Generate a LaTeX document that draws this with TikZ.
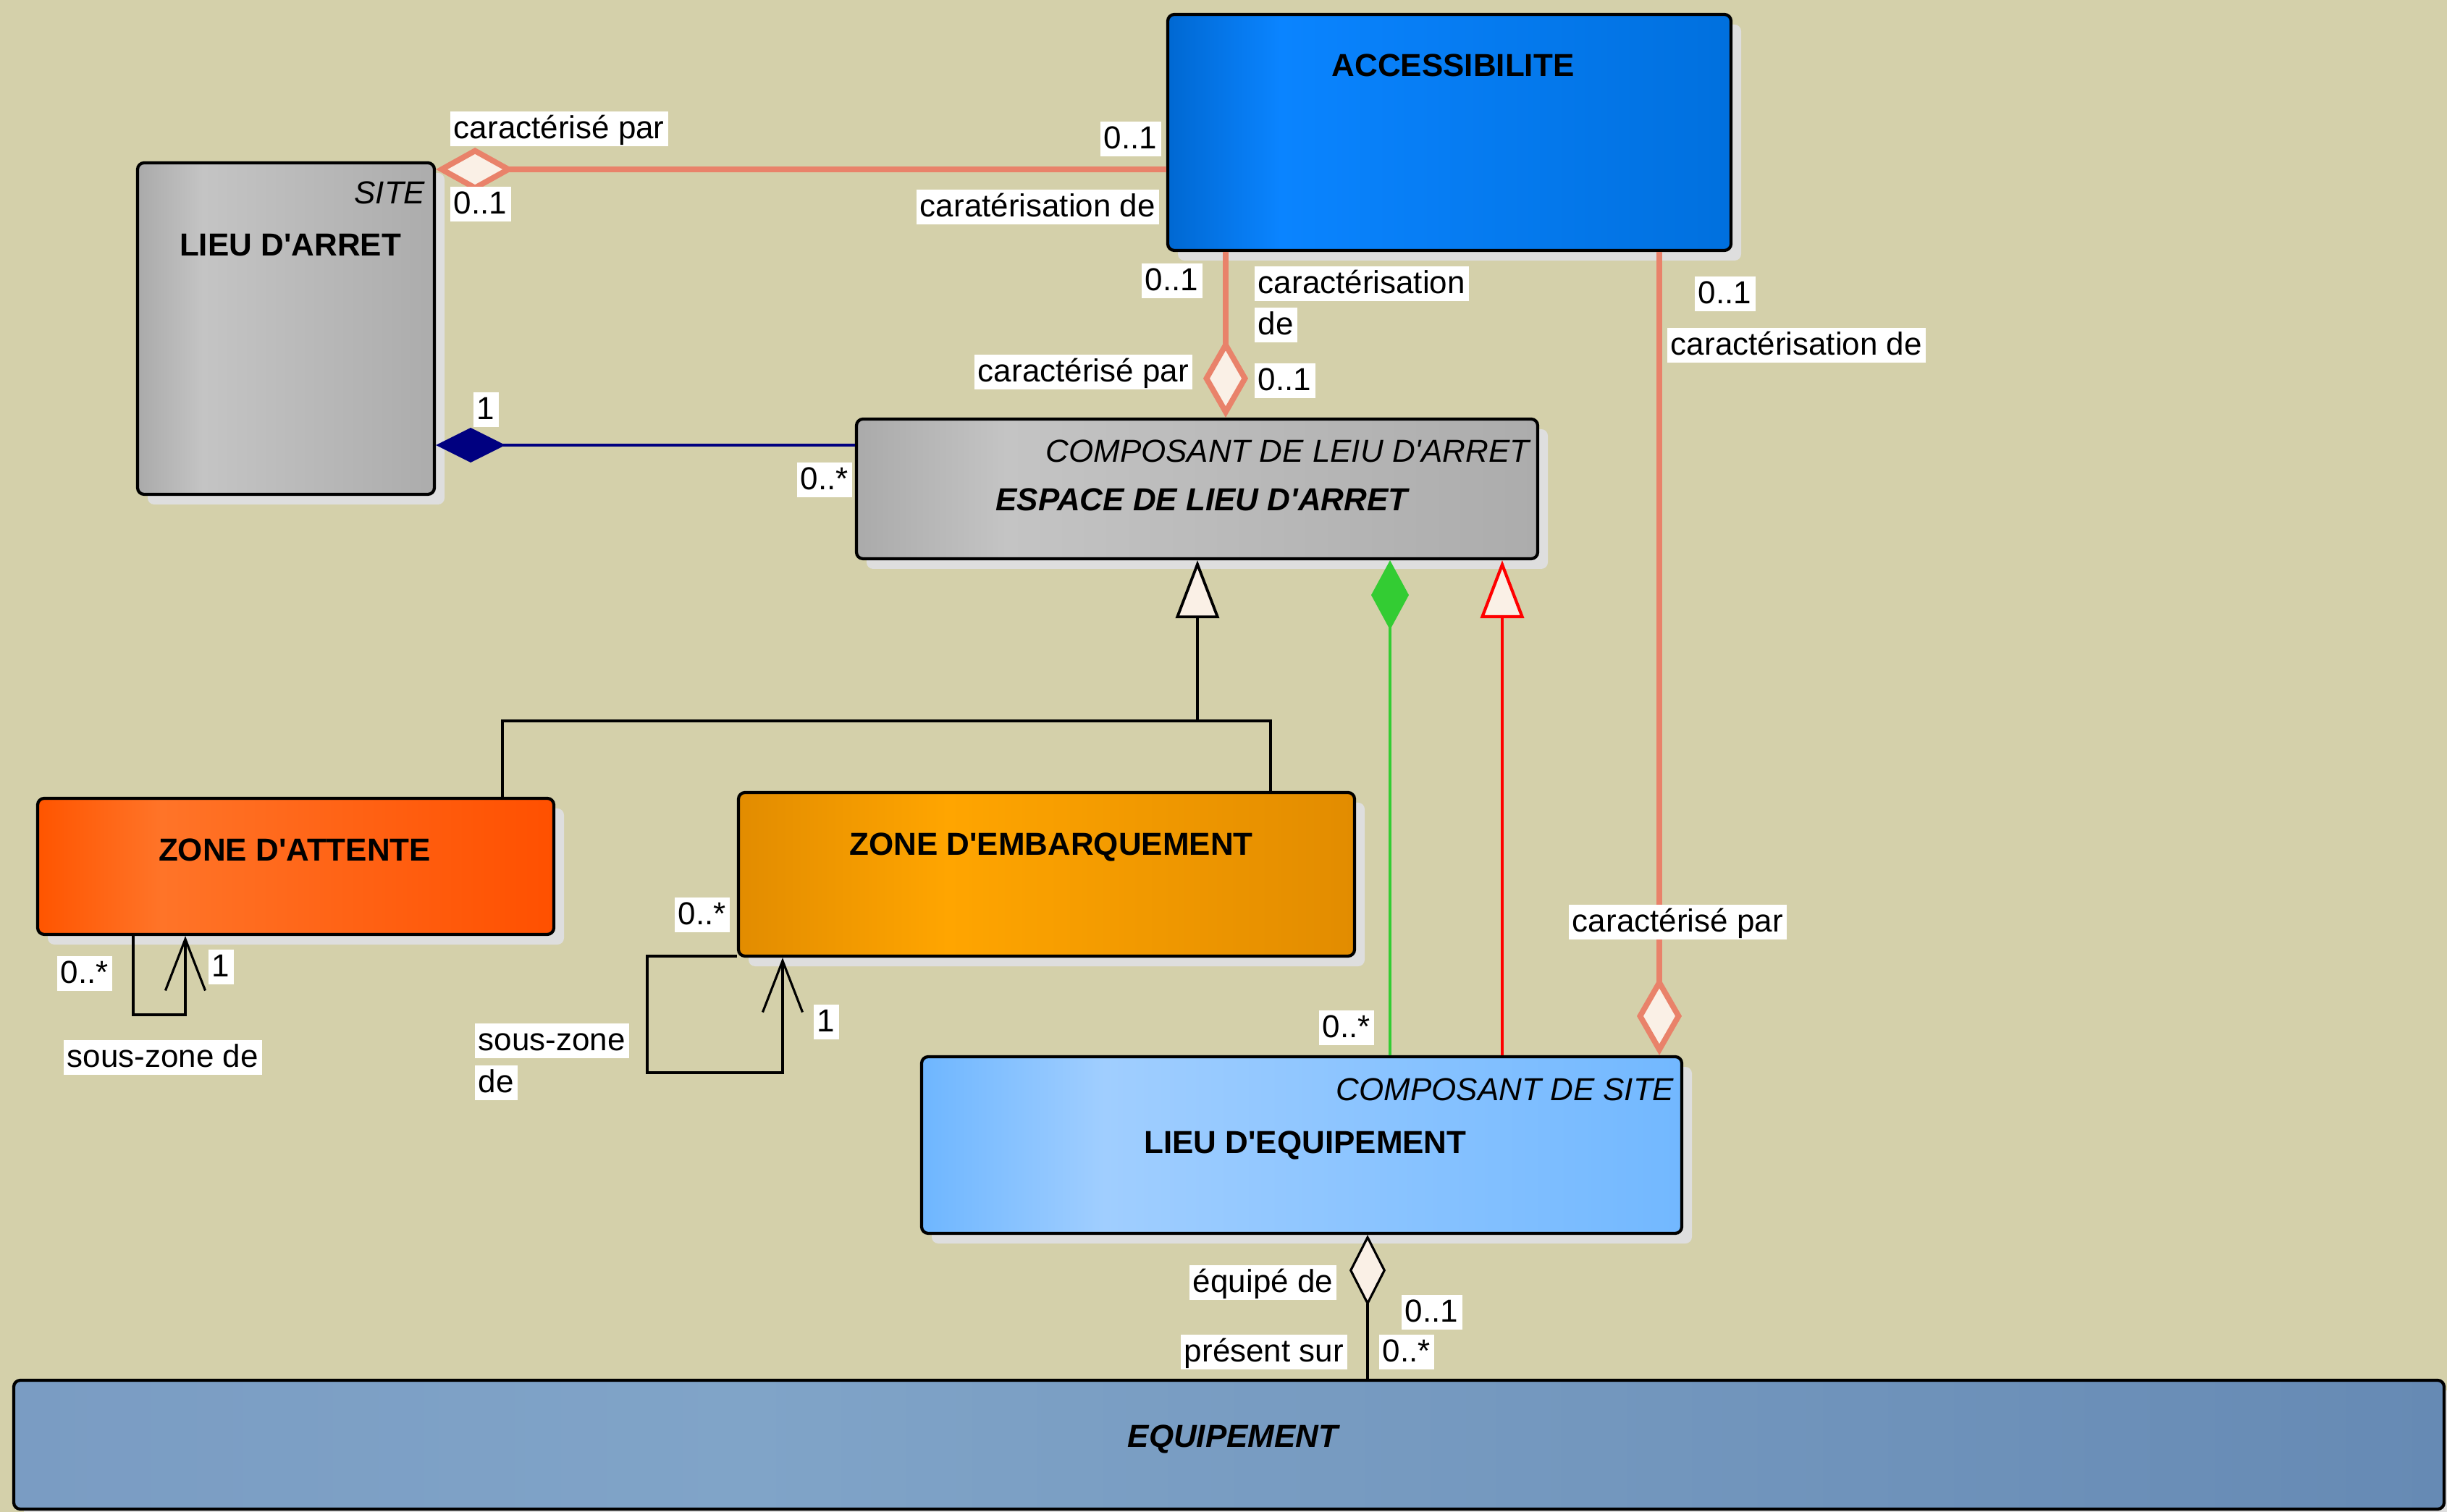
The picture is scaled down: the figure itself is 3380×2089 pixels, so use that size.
\documentclass[tikz,border=0pt]{standalone}
\usepackage{fontspec}
\setmainfont{Liberation Sans}
\usetikzlibrary{arrows.meta,fit,shadows}

\newcommand{\straightq}{\textquotesingle}

% palette
\definecolor{bg}{RGB}{212,208,170}
\definecolor{shadowgray}{RGB}{222,222,222}
\definecolor{salmon}{RGB}{233,130,106}
\definecolor{linenfill}{RGB}{250,240,230}
\definecolor{navyline}{RGB}{0,0,128}
\definecolor{greenline}{RGB}{51,204,51}
\definecolor{redline}{RGB}{255,0,0}

\definecolor{grayA}{RGB}{170,170,170}
\definecolor{grayB}{RGB}{196,196,196}
\definecolor{grayC}{RGB}{172,172,172}
\definecolor{blueA}{RGB}{0,104,210}
\definecolor{blueB}{RGB}{10,132,255}
\definecolor{blueC}{RGB}{0,112,222}
\definecolor{redA}{RGB}{255,85,0}
\definecolor{redB}{RGB}{255,116,40}
\definecolor{redC}{RGB}{255,80,0}
\definecolor{orA}{RGB}{226,140,0}
\definecolor{orB}{RGB}{255,165,0}
\definecolor{orC}{RGB}{226,140,0}
\definecolor{lbA}{RGB}{110,182,255}
\definecolor{lbB}{RGB}{160,206,255}
\definecolor{lbC}{RGB}{114,184,255}
\definecolor{sbA}{RGB}{122,156,195}
\definecolor{sbB}{RGB}{128,164,200}
\definecolor{sbC}{RGB}{102,138,180}

% left-to-right fills with a lighter band near the left side
\pgfdeclarehorizontalshading{shgray}{100bp}{color(0bp)=(grayA); color(25bp)=(grayA); color(36bp)=(grayB); color(75bp)=(grayC); color(100bp)=(grayC)}
\pgfdeclarehorizontalshading{shblue}{100bp}{color(0bp)=(blueA); color(25bp)=(blueA); color(35bp)=(blueB); color(75bp)=(blueC); color(100bp)=(blueC)}
\pgfdeclarehorizontalshading{shred}{100bp}{color(0bp)=(redA); color(25bp)=(redA); color(37bp)=(redB); color(75bp)=(redC); color(100bp)=(redC)}
\pgfdeclarehorizontalshading{shorange}{100bp}{color(0bp)=(orA); color(25bp)=(orA); color(42bp)=(orB); color(75bp)=(orC); color(100bp)=(orC)}
\pgfdeclarehorizontalshading{shlight}{100bp}{color(0bp)=(lbA); color(25bp)=(lbA); color(37bp)=(lbB); color(75bp)=(lbC); color(100bp)=(lbC)}
\pgfdeclarehorizontalshading{shsteel}{100bp}{color(0bp)=(sbA); color(25bp)=(sbA); color(40bp)=(sbB); color(75bp)=(sbC); color(100bp)=(sbC)}

\tikzset{
  classbox/.style={draw=black, line width=1.2pt, rounded corners=0.09cm, inner sep=0pt,
    general shadow={fill=shadowgray, shadow xshift=0.14cm, shadow yshift=-0.14cm}},
  txt/.style={inner sep=0pt, font=\fontsize{12.5}{15}\selectfont},
  title/.style={txt, font=\fontsize{12.5}{15}\selectfont\bfseries},
  titleit/.style={txt, font=\fontsize{12.5}{15}\selectfont\bfseries\itshape},
  stereo/.style={txt, font=\fontsize{12.5}{15}\selectfont\itshape},
  lbl/.style={fill=white, inner xsep=1.5pt, inner ysep=0pt, text height=10.8pt, text depth=3pt,
    font=\fontsize{12.5}{15}\selectfont, anchor=west},
  saline/.style={draw=salmon, line width=2.2pt},
  thin/.style={draw=black, line width=0.9pt},
}

\begin{document}
\begin{tikzpicture}[x=0.01cm, y=-0.01cm]
\fill[bg] (0,0) rectangle (3380,2089);
\useasboundingbox (0,0) rectangle (3380,2089);

% classes
\node[classbox, shading=shgray,   fit={(190,225) (600,683)}]   (lda)  {};
\node[classbox, shading=shblue,   fit={(1613,20) (2391,346)}]  (acc)  {};
\node[classbox, shading=shgray,   fit={(1183,579) (2124,772)}] (esp)  {};
\node[classbox, shading=shred,    fit={(52,1103) (765,1291)}]  (zatt) {};
\node[classbox, shading=shorange, fit={(1020,1095) (1871,1321)}] (zemb) {};
\node[classbox, shading=shlight,  fit={(1273,1460) (2323,1704)}] (leq)  {};
\node[classbox, shading=shsteel,  fit={(19,1907) (3376,2085)}] (equ)  {};

% class names and stereotypes
\node[stereo, anchor=base east] (ldaS) at (588,282) {SITE};
\node[title, anchor=base] (ldaT) at (401,354) {LIEU D\straightq ARRET};
\node[title, anchor=base] (accT) at (2007,106) {ACCESSIBILITE};
\node[stereo, anchor=base east] (espS) at (2113,639) {COMPOSANT DE LEIU D\straightq ARRET};
\node[titleit, anchor=base] (espT) at (1660,706) {ESPACE DE LIEU D\straightq ARRET};
\node[title, anchor=base] (zattT) at (407,1190) {ZONE D\straightq ATTENTE};
\node[title, anchor=base] (zembT) at (1452,1182) {ZONE D\straightq EMBARQUEMENT};
\node[stereo, anchor=base east] (leqS) at (2313,1521) {COMPOSANT DE SITE};
\node[title, anchor=base] (leqT) at (1803,1594) {LIEU D\straightq EQUIPEMENT};
\node[titleit, anchor=base] (equT) at (1703,2000) {EQUIPEMENT};

% associations with ACCESSIBILITE
\draw[saline, -{Diamond[fill=linenfill, length=1.08cm, width=0.6cm]}]
  (acc.west |- 0,234) -- (lda.east |- 0,234);
\draw[saline, -{Diamond[fill=linenfill, length=1.08cm, width=0.62cm]}]
  (acc.south -| 1693,0) -- (esp.north -| 1693,0);
\draw[saline, -{Diamond[fill=linenfill, length=1.08cm, width=0.62cm]}]
  (acc.south -| 2292,0) -- (leq.north -| 2292,0);

% composition LIEU D'ARRET / ESPACE
\draw[draw=navyline, line width=0.9pt, -{Diamond[fill=navyline, length=0.96cm, width=0.48cm]}]
  (esp.west |- 0,615) -- (lda.east |- 0,615);

% generalisation towards ESPACE DE LIEU D'ARRET
\coordinate (gj) at (1654,996);
\draw[thin] (zatt.north -| 694,0) |- (gj) -| (zemb.north -| 1755,0);
\draw[thin, -{Triangle[fill=linenfill, length=0.8cm, width=0.6cm, line width=1.1pt]}]
  (gj) -- (esp.south -| 1654,0);

% LIEU D'EQUIPEMENT to ESPACE
\draw[draw=greenline, line width=0.9pt, -{Diamond[fill=greenline, length=0.96cm, width=0.52cm]}]
  (leq.north -| 1920,0) -- (esp.south -| 1920,0);
\draw[draw=redline, line width=0.9pt, -{Triangle[fill=linenfill, length=0.8cm, width=0.6cm, line width=1.2pt]}]
  (leq.north -| 2075,0) -- (esp.south -| 2075,0);

% EQUIPEMENT aggregated in LIEU D'EQUIPEMENT
\draw[thin, -{Diamond[fill=linenfill, length=0.98cm, width=0.5cm]}]
  (equ.north -| 1889,0) -- (leq.south -| 1889,0);

% self associations
\coordinate (za1) at (184,1402);
\coordinate (za2) at (256,1402);
\draw[thin, -{Straight Barb[length=0.71cm, width=0.55cm]}]
  (zatt.south -| 184,0) -- (za1) -- (za2) -- (zatt.south -| 256,0);
\coordinate (ze1) at (894,1321);
\coordinate (ze2) at (894,1482);
\coordinate (ze3) at (1081,1482);
\draw[thin, -{Straight Barb[length=0.71cm, width=0.55cm]}]
  (zemb.west |- 0,1321) -- (ze1) -- (ze2) -- (ze3) -- (zemb.south -| 1081,0);

% role names and multiplicities
\node[lbl] (l1)  at (621,178)  {caractérisé par};
\node[lbl] (l2)  at (621,282)  {0..1};
\node[lbl] (l3)  at (1519,192) {0..1};
\node[lbl] (l4)  at (1265,286) {caratérisation de};
\node[lbl] (l5)  at (1576,388) {0..1};
\node[lbl] (l6)  at (1732,392) {caractérisation};
\node[lbl] (l7)  at (1732,449) {de};
\node[lbl] (l8)  at (1732,526) {0..1};
\node[lbl] (l9)  at (1345,514) {caractérisé par};
\node[lbl] (l10) at (2340,406) {0..1};
\node[lbl] (l11) at (2302,477) {caractérisation de};
\node[lbl] (l12) at (2166,1274) {caractérisé par};
\node[lbl] (l13) at (653,566)  {1};
\node[lbl] (l14) at (1100,663) {0..*};
\node[lbl] (l15) at (78,1345)  {0..*};
\node[lbl] (l16) at (287,1336) {1};
\node[lbl] (l17) at (87,1461)  {sous-zone de};
\node[lbl] (l18) at (931,1264) {0..*};
\node[lbl] (l19) at (1123,1412) {1};
\node[lbl] (l20) at (655,1438) {sous-zone};
\node[lbl] (l21) at (655,1496) {de};
\node[lbl] (l22) at (1821,1420) {0..*};
\node[lbl] (l23) at (1642,1772) {équipé de};
\node[lbl] (l24) at (1935,1813) {0..1};
\node[lbl] (l25) at (1630,1868) {présent sur};
\node[lbl] (l26) at (1904,1868) {0..*};
\end{tikzpicture}
\end{document}
